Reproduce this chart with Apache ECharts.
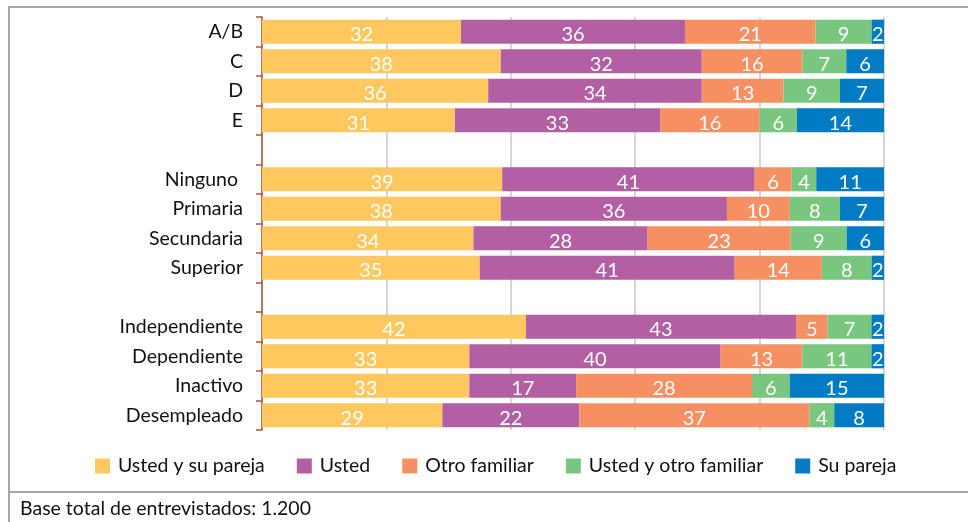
<!DOCTYPE html>
<html>
<head>
<meta charset="utf-8">
<script src="https://cdn.jsdelivr.net/npm/echarts@6/dist/echarts.min.js"></script>
<style>
  html, body { margin: 0; padding: 0; background: #fff; }
  #chart { width: 968px; height: 522px; }
</style>
</head>
<body>
<div id="chart"></div>
<script>
// categorias (las vacias son separadores entre grupos)
const categorias = ['A/B', 'C', 'D', 'E', '', 'Ninguno ', 'Primaria', 'Secundaria', 'Superior', ' ',
  'Independiente', 'Dependiente', 'Inactivo', 'Desempleado'];

const seriesNombres = ['Usted y su pareja', 'Usted', 'Otro familiar', 'Usted y otro familiar', 'Su pareja'];
const colores = ['#ffc85f', '#b260a3', '#f69063', '#79c67f', '#007bc4'];

// valores en %, null para los separadores
const ustedYSuPareja = [32, 38, 36, 31, null, 39, 38, 34, 35, null, 42, 33, 33, 29];
const usted          = [36, 32, 34, 33, null, 41, 36, 28, 41, null, 43, 40, 17, 22];
const otroFamiliar   = [21, 16, 13, 16, null, 6, 10, 23, 14, null, 5, 13, 28, 37];
const ustedYOtro     = [9, 7, 9, 6, null, 4, 8, 9, 8, null, 7, 11, 6, 4];
const suPareja       = [2, 6, 7, 14, null, 11, 7, 6, 2, null, 2, 2, 15, 8];

const valores = [ustedYSuPareja, usted, otroFamiliar, ustedYOtro, suPareja];

// barras al 100%: cada fila se normaliza a su suma
const sumas = categorias.map((c, i) => valores.reduce((s, arr) => s + (arr[i] || 0), 0));

const fuente = 'Lato';

const series = valores.map((arr, k) => ({
  name: seriesNombres[k],
  type: 'bar',
  stack: 'total',
  barCategoryGap: '18%',
  itemStyle: { color: colores[k] },
  label: {
    show: true,
    position: 'inside',
    offset: [0, 3],
    color: '#fff',
    fontFamily: fuente,
    fontSize: 20,
    formatter: p => arr[p.dataIndex]
  },
  data: arr.map((v, i) => v == null ? '-' : v / sumas[i] * 100)
}));

let myChart = echarts.init(document.getElementById('chart'));
myChart.setOption({
  animation: false,
  textStyle: { fontFamily: fuente },
  grid: { left: 262, right: 84, top: 17, bottom: 92 },
  xAxis: {
    type: 'value',
    min: 0,
    max: 100,
    interval: 20,
    axisLabel: { show: false },
    axisTick: { show: false },
    axisLine: { show: false },
    splitLine: { lineStyle: { color: '#c8c8c8', width: 1.5 } }
  },
  yAxis: {
    type: 'category',
    inverse: true,
    data: categorias,
    axisLine: { show: true, lineStyle: { color: '#b5533c', width: 1.5 } },
    axisTick: { show: true, length: 6, interval: 0, lineStyle: { color: '#b5533c', width: 1.5 } },
    axisLabel: { color: '#111', fontSize: 19.5, fontFamily: fuente, margin: 19, interval: 0 }
  },
  legend: {
    bottom: 41,
    left: 90,
    icon: 'rect',
    itemWidth: 15,
    itemHeight: 15,
    itemGap: 32,
    textStyle: { color: '#111', fontSize: 19.5, fontFamily: fuente, padding: [0, 0, 0, 3] },
    data: seriesNombres
  },
  graphic: [
    { type: 'line', shape: { x1: 9, y1: 6, x2: 9, y2: 522 }, style: { stroke: '#a6a6a6', lineWidth: 2 } },
    { type: 'line', shape: { x1: 8, y1: 7, x2: 968, y2: 7 }, style: { stroke: '#a6a6a6', lineWidth: 2 } },
    { type: 'line', shape: { x1: 8, y1: 492, x2: 968, y2: 492 }, style: { stroke: '#a6a6a6', lineWidth: 2 } },
    {
      type: 'text', left: 20, top: 499,
      style: { text: 'Base total de entrevistados: 1.200', fill: '#111', fontSize: 19.5, fontFamily: fuente }
    }
  ],
  series: series
});
</script>
</body>
</html>
